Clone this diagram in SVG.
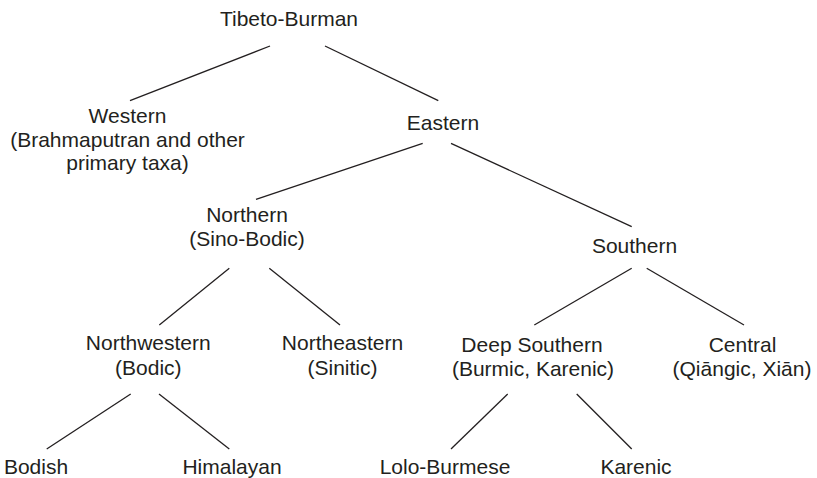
<svg xmlns="http://www.w3.org/2000/svg" width="817" height="478" viewBox="0 0 817 478">
<style>
text{font-family:"Liberation Sans",Arial,sans-serif;font-size:21px;fill:#231f20;text-anchor:middle}
.c line{stroke:#231f20;stroke-width:1.3;fill:none}
</style>
<rect width="817" height="478" fill="#fff"/>
<g class="c" id="connectors">
<line x1="270" y1="46" x2="130" y2="100.7"/>
<line x1="325" y1="46" x2="438.3" y2="100.7"/>
<line x1="422.7" y1="143.3" x2="256" y2="199.3"/>
<line x1="451" y1="143.3" x2="631.7" y2="226.7"/>
<line x1="229.3" y1="268.3" x2="159.3" y2="325"/>
<line x1="269.3" y1="268.3" x2="340" y2="325"/>
<line x1="130.7" y1="394" x2="46.7" y2="449"/>
<line x1="159" y1="394" x2="229.3" y2="449"/>
<line x1="631.7" y1="268.3" x2="534.3" y2="325"/>
<line x1="646.7" y1="268.3" x2="744" y2="325"/>
<line x1="507.7" y1="394" x2="451" y2="449"/>
<line x1="576.7" y1="394" x2="631.7" y2="449"/>
</g>
<g id="tibeto-burman"><text x="289" y="26">Tibeto-Burman</text></g>
<g id="western"><text x="127.5" y="122.5">Western</text><text x="127.5" y="146.5">(Brahmaputran and other</text><text x="127.5" y="170">primary taxa)</text></g>
<g id="eastern"><text x="443" y="129.5">Eastern</text></g>
<g id="northern"><text x="247" y="221.5">Northern</text><text x="247" y="245.5">(Sino-Bodic)</text></g>
<g id="southern"><text x="634.5" y="252.5">Southern</text></g>
<g id="northwestern"><text x="148.3" y="350">Northwestern</text><text x="148.3" y="375">(Bodic)</text></g>
<g id="northeastern"><text x="342.5" y="350">Northeastern</text><text x="342.5" y="375">(Sinitic)</text></g>
<g id="deep-southern"><text x="532" y="351.5">Deep Southern</text><text x="533" y="376">(Burmic, Karenic)</text></g>
<g id="central"><text x="742.5" y="351.5">Central</text><text x="742" y="376">(Qiāngic, Xiān)</text></g>
<g id="bodish"><text x="36" y="474">Bodish</text></g>
<g id="himalayan"><text x="232" y="474">Himalayan</text></g>
<g id="lolo-burmese"><text x="445" y="474">Lolo-Burmese</text></g>
<g id="karenic"><text x="636" y="474">Karenic</text></g>
</svg>
